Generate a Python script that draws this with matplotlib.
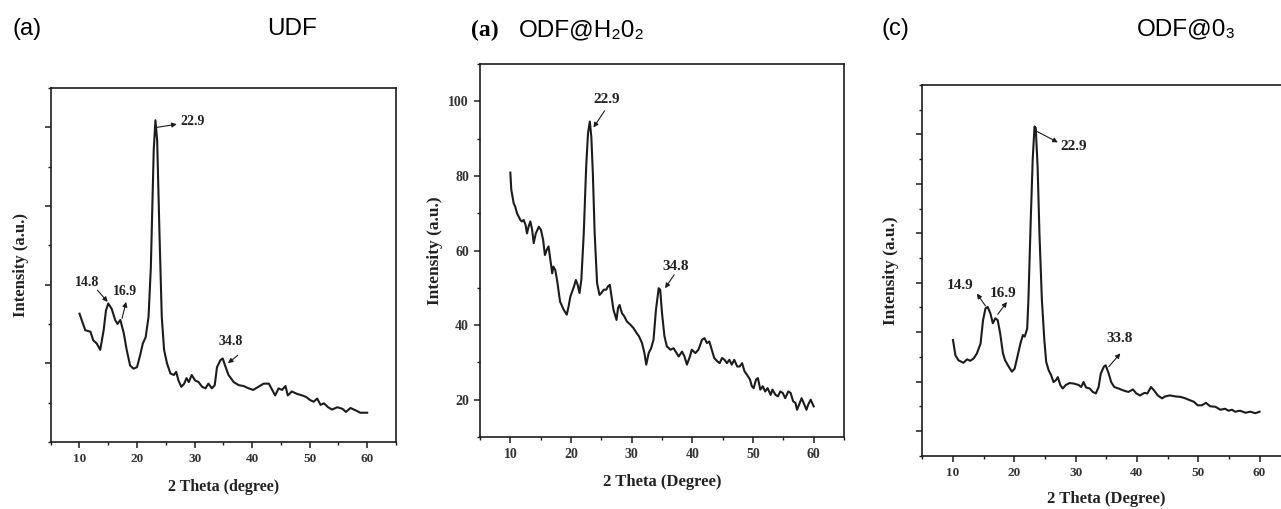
import matplotlib
matplotlib.use("Agg")
import matplotlib.pyplot as plt
from matplotlib.ticker import MultipleLocator, NullFormatter

# UDF
udf_theta = [10.0, 11.0, 11.9, 12.4, 13.0, 13.6, 14.2, 14.6, 15.0, 15.6, 16.2, 16.6, 17.1, 17.7,
             18.2, 18.8, 19.4, 20.0, 20.6, 21.0, 21.5, 22.0, 22.4, 22.9, 23.2, 23.5, 23.9, 24.3,
             24.7, 25.2, 25.8, 26.4, 26.8, 27.2, 27.7, 28.2, 28.6, 29.0, 29.5, 30.1, 30.7, 31.3,
             31.9, 32.4, 33.0, 33.5, 33.9, 34.5, 34.9, 35.3, 35.9, 36.8, 37.7, 38.5, 39.4, 40.2,
             41.1, 42.0, 42.9, 43.5, 44.0, 44.6, 45.2, 45.8, 46.2, 46.9, 47.8, 48.7, 49.4, 50.1,
             50.7, 51.3, 51.9, 52.5, 53.2, 53.9, 54.8, 55.7, 56.3, 57.1, 58.0, 58.8, 60.0]
udf_int = [163, 142, 140, 129, 125, 117, 142, 167, 176, 169, 155, 150, 155, 138,
           117, 97, 93, 95, 112, 125, 133, 159, 222, 371, 409, 383, 265, 159,
           117, 100, 87, 85, 89, 78, 70, 74, 81, 76, 85, 78, 76, 70,
           68, 74, 68, 72, 95, 104, 106, 97, 85, 76, 72, 71, 68, 66,
           70, 74, 74, 66, 59, 68, 66, 71, 59, 64, 61, 59, 57, 53,
           51, 55, 47, 49, 44, 41, 44, 42, 38, 43, 40, 37, 37]

# ODF@H2O2
h2o2_theta = [10.0, 10.16, 10.55, 10.8, 11.1, 11.4, 11.65, 11.9, 12.2, 12.5, 12.75, 13.0, 13.3,
              13.6, 13.85, 14.2, 14.7, 15.05, 15.4, 15.7, 16.0, 16.3, 16.6, 16.9, 17.1, 17.4,
              17.7, 18.0, 18.2, 18.8, 19.3, 19.6, 19.9, 20.3, 20.5, 20.8, 21.1, 21.4, 21.7,
              22.1, 22.5, 22.8, 23.1, 23.35, 23.6, 23.9, 24.3, 24.7, 25.0, 25.4, 25.8, 26.1,
              26.4, 26.6, 27.0, 27.5, 27.75, 28.0, 28.4, 28.8, 29.2, 29.8, 30.3, 30.8, 31.2,
              31.7, 32.1, 32.4, 32.8, 33.2, 33.6, 34.0, 34.45, 34.7, 35.0, 35.4, 35.8, 36.4,
              36.9, 37.4, 37.75, 38.3, 38.7, 39.1, 39.6, 39.9, 40.5, 41.0, 41.6, 42.0, 42.4,
              42.8, 43.2, 43.6, 44.1, 44.5, 44.9, 45.3, 45.7, 46.1, 46.5, 46.9, 47.4, 47.8,
              48.2, 48.6, 49.0, 49.5, 49.8, 50.1, 50.5, 50.8, 51.2, 51.6, 52.0, 52.4, 52.9,
              53.2, 53.7, 54.1, 54.5, 54.9, 55.3, 55.8, 56.2, 56.6, 57.0, 57.25, 57.6, 58.0,
              58.35, 58.8, 59.1, 59.5, 60.0]
h2o2_int = [80.9, 76.3, 72.7, 71.8, 70.0, 69.0, 68.2, 67.8, 68.2, 66.9, 64.6, 66.4, 67.8,
            65.5, 62.0, 64.6, 66.4, 65.5, 62.9, 58.8, 60.2, 61.1, 57.5, 53.9, 55.7, 54.8,
            52.1, 48.6, 46.3, 44.1, 42.8, 45.0, 47.7, 49.5, 50.4, 52.1, 50.8, 48.6, 52.1,
            64.6, 82.5, 91.4, 94.6, 90.5, 80.7, 64.6, 51.2, 48.1, 48.6, 49.5, 49.5, 50.4,
            50.8, 48.6, 44.1, 41.4, 44.6, 45.4, 43.2, 42.3, 41.0, 40.1, 39.2, 37.9, 37.0,
            35.2, 32.5, 29.4, 32.5, 33.8, 36.1, 44.1, 49.9, 49.5, 43.2, 37.0, 34.3, 33.4,
            33.8, 32.5, 31.6, 32.9, 31.6, 29.4, 31.6, 33.4, 32.5, 33.4, 36.1, 36.5, 35.2,
            35.6, 33.4, 31.2, 30.3, 29.8, 31.2, 30.7, 29.8, 30.7, 29.4, 30.7, 28.9, 28.9,
            29.8, 27.6, 26.7, 25.4, 23.6, 23.1, 25.4, 25.8, 22.7, 23.6, 22.2, 23.1, 21.3,
            22.7, 21.3, 20.9, 22.2, 21.8, 20.4, 22.2, 21.8, 19.6, 19.1, 17.3, 18.7, 20.4,
            19.1, 17.3, 18.7, 20.0, 18.2]

# ODF@O3
o3_theta = [10.0, 10.4, 10.9, 11.7, 12.3, 12.8, 13.4, 13.9, 14.5, 14.9, 15.3, 15.65, 16.1, 16.5,
            16.9, 17.3, 17.7, 18.15, 18.5, 19.1, 19.6, 20.05, 20.5, 21.0, 21.4, 21.7, 22.1,
            22.3, 22.7, 23.0, 23.3, 23.5, 23.8, 24.1, 24.5, 24.9, 25.2, 25.6, 26.0, 26.4,
            26.8, 27.1, 27.5, 27.9, 28.4, 29.0, 29.7, 30.5, 30.9, 31.3, 31.7, 32.3, 32.8,
            33.3, 33.75, 34.1, 34.6, 34.9, 35.4, 35.8, 36.3, 37.0, 37.8, 38.6, 39.35, 39.9,
            40.5, 41.2, 41.7, 42.3, 42.8, 43.4, 44.1, 44.6, 45.4, 46.25, 47.1, 47.9, 48.7,
            49.3, 49.9, 50.6, 51.25, 51.95, 52.8, 53.6, 54.4, 54.9, 55.5, 56.0, 56.8, 57.7,
            58.5, 59.3, 60.0]
o3_int = [184, 153, 143, 138, 145, 142, 147, 157, 177, 224, 248, 251, 238, 218,
          228, 224, 197, 157, 143, 130, 120, 126, 150, 177, 194, 191, 207,
          265, 434, 549, 616, 613, 535, 400, 265, 184, 140, 123, 113, 99,
          103, 109, 93, 86, 93, 97, 96, 93, 89, 99, 88, 86, 79,
          76, 89, 116, 130, 133, 116, 99, 89, 86, 82, 79, 84, 76,
          72, 77, 76, 89, 82, 72, 66, 70, 72, 70, 69, 66, 62,
          59, 52, 52, 57, 50, 49, 43, 45, 41, 43, 39, 41, 37,
          39, 36, 39]

# (label, text x, text y, arrow tail x, tail y, arrow head x, head y)
udf_notes = [("22.9", 29.6, 407, 23.5, 400, 26.9, 404),
             ("14.8", 11.3, 203, 13.1, 193, 14.9, 178),
             ("16.9", 17.9, 191, 17.4, 157, 18.1, 178),
             ("34.8", 36.3, 127, 37.5, 110, 35.8, 100)]
h2o2_notes = [("22.9", 25.9, 100.4, 25.55, 97.5, 23.7, 93.0),
              ("34.8", 37.2, 55.7, 37.0, 53.5, 35.5, 49.9)]
o3_notes = [("22.9", 29.7, 576, 23.7, 606, 27.1, 584),
            ("14.9", 11.2, 295, 15.3, 253, 13.9, 278),
            ("16.9", 18.15, 278, 17.3, 236, 18.8, 261),
            ("33.8", 37.2, 187, 35.4, 130, 37.3, 157)]

serif = "Liberation Serif"
sans = ["Liberation Sans", "DejaVu Sans"]
ink = "#1c1c1c"

fig = plt.figure(figsize=(12.81, 5.09), dpi=100)


def setup(ax, theta, inten, notes, ylim, yticks, ymin, ylabels, xlabel, fs, nfs, xfs, yfs):
    ax.plot(theta, inten, color=ink, lw=1.5)
    ax.set_xlim(5, 65)
    ax.set_ylim(*ylim)
    ax.set_xticks([10, 20, 30, 40, 50, 60])
    ax.xaxis.set_minor_locator(MultipleLocator(5))
    ax.set_yticks(yticks)
    ax.yaxis.set_minor_locator(MultipleLocator(ymin))
    if not ylabels:
        ax.yaxis.set_major_formatter(NullFormatter())
    ax.tick_params(which="major", direction="out", length=4.5, width=1.1, color=ink,
                   labelsize=fs, top=False, right=False)
    ax.tick_params(which="minor", direction="out", length=2.5, width=1.0, color=ink,
                   top=False, right=False)
    for lab in ax.get_xticklabels() + ax.get_yticklabels():
        lab.set_fontfamily(serif)
        lab.set_fontweight("bold")
        lab.set_color("#333333")
    for sp in ax.spines.values():
        sp.set_linewidth(1.2)
        sp.set_color(ink)
    ax.set_xlabel(xlabel, fontfamily=serif, fontweight="bold", fontsize=xfs, color="#222222")
    ax.set_ylabel("Intensity (a.u.)", fontfamily=serif, fontweight="bold", fontsize=yfs,
                  color="#222222")
    for lab, tx, ty, ax0, ay0, ax1, ay1 in notes:
        ax.text(tx, ty, lab, fontfamily=serif, fontweight="bold", fontsize=nfs,
                ha="center", va="center", color="#222222")
        ax.annotate("", xy=(ax1, ay1), xytext=(ax0, ay0),
                    arrowprops=dict(arrowstyle="-|>", color=ink, lw=0.8,
                                    mutation_scale=7, shrinkA=0, shrinkB=0))


ax1 = fig.add_axes([0.0396, 0.132, 0.2695, 0.695])
setup(ax1, udf_theta, udf_int, udf_notes, (0, 450), [100, 200, 300, 400], 50, False,
      "2 Theta (degree)", 9.5, 10, 11.5, 12)
ax1.xaxis.labelpad = 10
ax1.yaxis.labelpad = 8

ax2 = fig.add_axes([0.3747, 0.1415, 0.2842, 0.7325])
setup(ax2, h2o2_theta, h2o2_int, h2o2_notes, (10, 110), [20, 40, 60, 80, 100], 10, True,
      "2 Theta (Degree)", 10, 11, 12, 12.5)
ax2.xaxis.labelpad = 9
ax2.yaxis.labelpad = 4

ax3 = fig.add_axes([0.720, 0.1047, 0.2872, 0.7283])
setup(ax3, o3_theta, o3_int, o3_notes, (-50, 700), [0, 100, 200, 300, 400, 500, 600], 50,
      False, "2 Theta (Degree)", 9.5, 11, 12, 12.5)
ax3.xaxis.labelpad = 9
ax3.yaxis.labelpad = 9

fig.text(0.0094, 0.943, "(a)", fontfamily=sans, fontsize=17, va="center", ha="left")
fig.text(0.228, 0.943, "UDF", fontfamily=sans, fontsize=17.5, va="center", ha="center")
fig.text(0.368, 0.940, "(a)", fontfamily=serif, fontweight="bold", fontsize=17,
         va="center", ha="left")
fig.text(0.405, 0.940, "ODF@H\u20820\u2082", fontfamily=sans, fontsize=17.5, va="center",
         ha="left")
fig.text(0.6885, 0.943, "(c)", fontfamily=sans, fontsize=17, va="center", ha="left")
fig.text(0.8875, 0.943, "ODF@0\u2083", fontfamily=sans, fontsize=17.5, va="center", ha="left")

fig.savefig("out.png", dpi=100, facecolor="white")
